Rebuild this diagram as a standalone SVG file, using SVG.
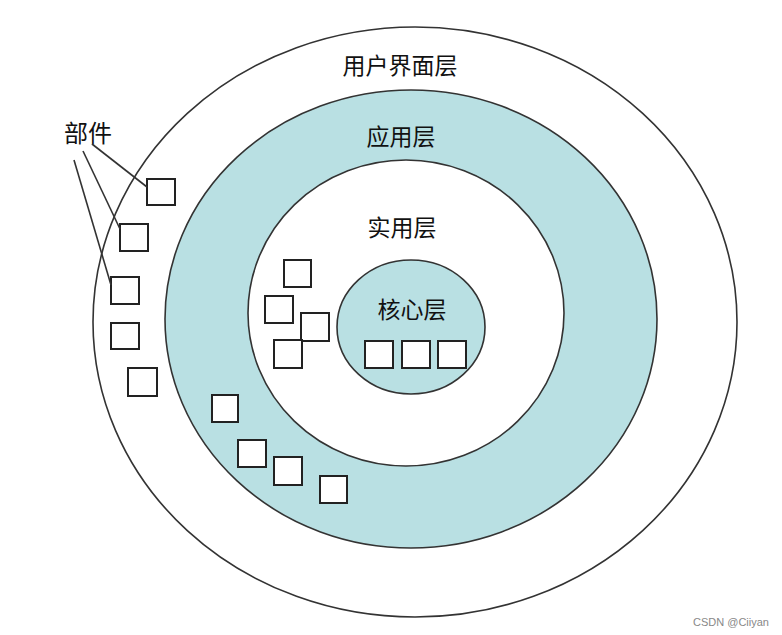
<svg xmlns="http://www.w3.org/2000/svg" width="782" height="635" viewBox="0 0 782 635">
  <style>
    .ring { stroke: #333; stroke-width: 1.6; }
    .white { fill: #ffffff; }
    .teal { fill: #b9e0e3; }
    .part { fill: #ffffff; stroke: #222; stroke-width: 2; }
    .lbl { font-family: "Noto Sans CJK SC", "Noto Sans", sans-serif; font-size: 23px; fill: #111; text-anchor: middle; }
    .lead { stroke: #333; stroke-width: 1.6; fill: none; }
    .wm { font-family: "Liberation Sans", Arial, sans-serif; font-size: 11px; fill: #888; }
  </style>
  <rect width="782" height="635" fill="#ffffff"/>

  <g id="ui-layer">
    <ellipse class="ring white" cx="415" cy="322" rx="322" ry="295"/>
    <text class="lbl" x="400" y="74">用户界面层</text>
  </g>
  <g id="app-layer">
    <ellipse class="ring teal" cx="411" cy="319" rx="246" ry="229"/>
    <text class="lbl" x="401" y="145">应用层</text>
  </g>
  <g id="util-layer">
    <ellipse class="ring white" cx="406" cy="313" rx="158" ry="153"/>
    <text class="lbl" x="402" y="236">实用层</text>
  </g>
  <g id="core-layer">
    <ellipse class="ring teal" cx="411" cy="327" rx="74" ry="67"/>
    <text class="lbl" x="412" y="318">核心层</text>
  </g>

  <g id="parts-ui">
    <rect class="part" x="147" y="179" width="28" height="26"/>
    <rect class="part" x="120" y="224" width="28" height="27"/>
    <rect class="part" x="111" y="277" width="28" height="27"/>
    <rect class="part" x="111" y="323" width="28" height="26"/>
    <rect class="part" x="128" y="368" width="29" height="28"/>
  </g>
  <g id="parts-app">
    <rect class="part" x="212" y="395" width="26" height="27"/>
    <rect class="part" x="238" y="440" width="28" height="27"/>
    <rect class="part" x="274" y="457" width="28" height="28"/>
    <rect class="part" x="320" y="476" width="27" height="27"/>
  </g>
  <g id="parts-util">
    <rect class="part" x="284" y="260" width="27" height="27"/>
    <rect class="part" x="265" y="296" width="28" height="27"/>
    <rect class="part" x="301" y="313" width="28" height="28"/>
    <rect class="part" x="274" y="340" width="28" height="28"/>
  </g>
  <g id="parts-core">
    <rect class="part" x="365" y="341" width="28" height="27"/>
    <rect class="part" x="402" y="341" width="28" height="27"/>
    <rect class="part" x="438" y="341" width="28" height="27"/>
  </g>

  <g id="parts-label">
    <text class="lbl" x="88" y="142" style="font-size:24px">部件</text>
  </g>
  <g id="connectors">
    <line class="lead" x1="92" y1="144" x2="147" y2="187"/>
    <line class="lead" x1="83" y1="151" x2="120" y2="229"/>
    <line class="lead" x1="74" y1="160" x2="111" y2="285"/>
  </g>

  <text class="wm" x="693" y="626">CSDN @Ciiyan</text>
</svg>
